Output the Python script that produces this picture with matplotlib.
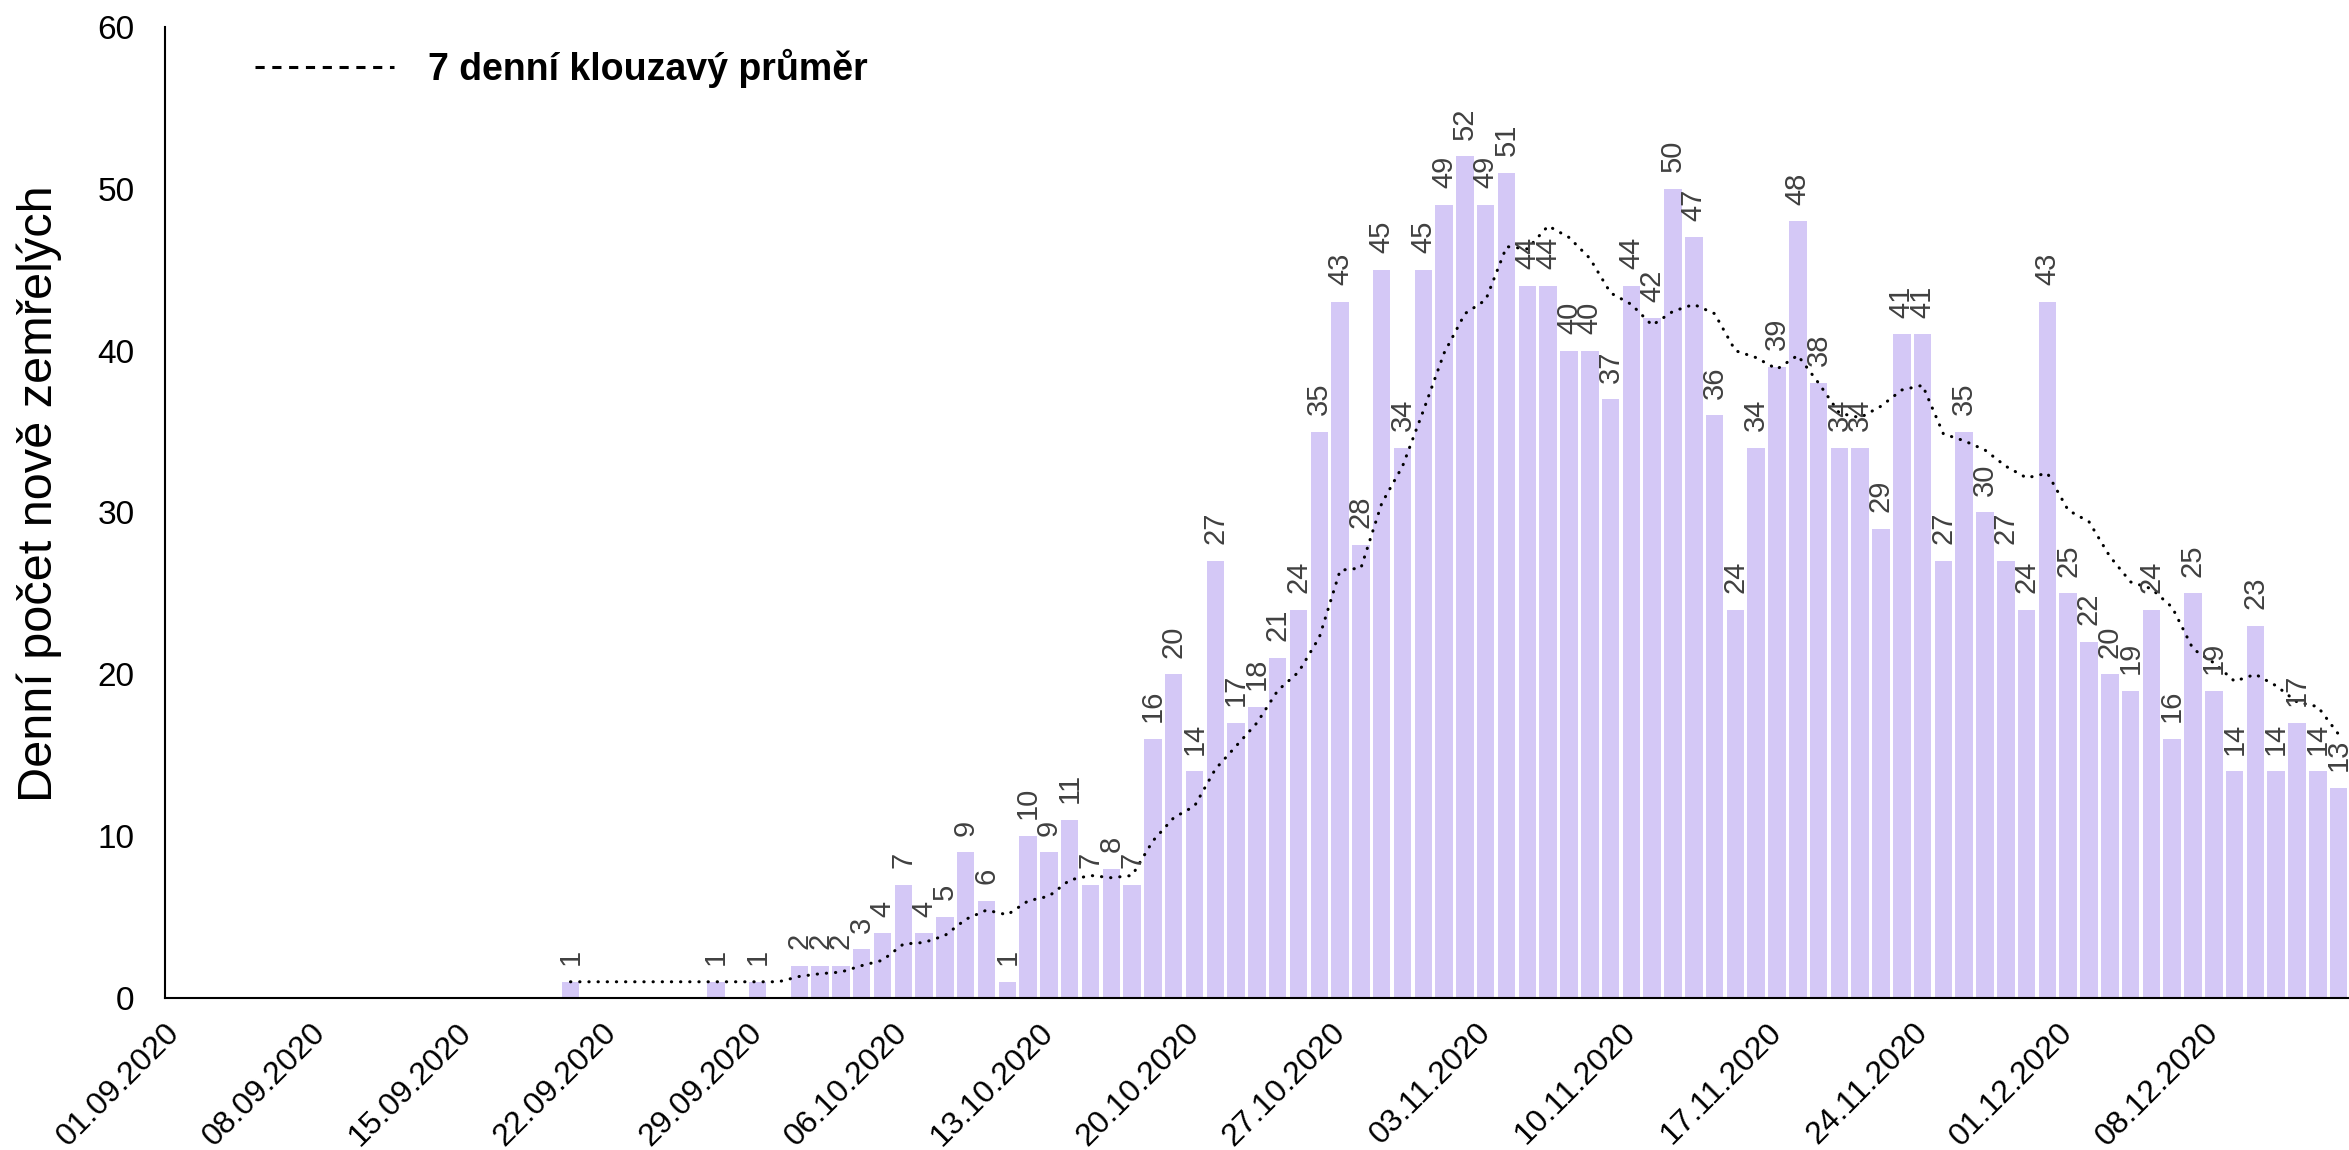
import numpy as np
import pandas as pd
import matplotlib
matplotlib.use("Agg")
import matplotlib.pyplot as plt
import matplotlib.dates as mdates
from matplotlib.lines import Line2D

plt.rcParams['font.family'] = ['Liberation Sans', 'DejaVu Sans']

# data
zacatek_osy = "2020-09-01"
konec_osy = "2020-12-15"
prvni_den = "2020-09-20"

zemreli = [1, 0, 0, 0, 0, 0, 0, 1, 0, 1, 0,
           2, 2, 2, 3, 4, 7, 4, 5, 9, 6,
           1, 10, 9, 11, 7, 8, 7, 16, 20, 14,
           27, 17, 18, 21, 24, 35, 43, 28, 45, 34,
           45, 49, 52, 49, 51, 44, 44, 40, 40, 37,
           44, 42, 50, 47, 36, 24, 34, 39, 48, 38,
           34, 34, 29, 41, 41, 27, 35, 30, 27, 24,
           43, 25, 22, 20, 19, 24, 16, 25, 19, 14,
           23, 14, 17, 14, 13]

prumer_7d = [1, 1, 1, 1, 1, 1, 1, 1, 1, 1, 1,
             1.33, 1.5, 1.6, 2.0, 2.33, 3.33, 3.43, 3.86, 4.86, 5.43,
             5.14, 6.0, 6.29, 7.29, 7.57, 7.43, 7.57, 9.71, 11.14, 11.86,
             14.14, 15.57, 17.0, 19.0, 20.14, 22.29, 26.43, 26.57, 30.57, 32.86,
             36.29, 39.86, 42.29, 43.14, 46.43, 46.29, 47.71, 47.0, 45.71, 43.57,
             42.86, 41.57, 42.43, 42.86, 42.29, 40.0, 39.57, 38.86, 39.71, 38.0,
             36.14, 35.86, 36.57, 37.57, 37.86, 34.86, 34.43, 33.86, 32.86, 32.14,
             32.43, 30.14, 29.43, 27.29, 25.71, 25.29, 24.14, 21.57, 20.71, 19.57,
             20.0, 19.29, 18.29, 18.0, 16.29]

dny = pd.date_range(prvni_den, periods=len(zemreli), freq="D")
x = mdates.date2num(dny.to_pydatetime()) + 0.5

fig = plt.figure(figsize=(23.49, 11.5), dpi=100)
ax = fig.add_axes([0.0702, 0.1322, 0.9298, 0.8443])

ax.bar(x, zemreli, width=0.84, color="#D4C8F6", zorder=2)
ax.plot(x, prumer_7d, color="black", lw=2.2, linestyle=(0, (0.1, 2.9)),
        dash_capstyle="round", zorder=3)

for xi, v in zip(x, zemreli):
    if v > 0:
        ax.annotate(str(v), (xi, v), xytext=(0, 12), textcoords="offset points",
                    rotation=90, ha="center", va="bottom", fontsize=21,
                    color="#404040", zorder=4)

ax.set_xlim(mdates.date2num(pd.Timestamp(zacatek_osy)), mdates.date2num(pd.Timestamp(konec_osy)))
ax.set_ylim(0, 60)
ax.set_yticks(range(0, 61, 10))

tyden = pd.date_range(zacatek_osy, "2020-12-08", freq="7D")
ax.set_xticks(mdates.date2num(tyden.to_pydatetime()))
ax.set_xticklabels([d.strftime("%d.%m.%Y") for d in tyden], rotation=45,
                   ha="right", rotation_mode="anchor", fontsize=23)
ax.tick_params(axis="x", length=0, pad=14)
ax.tick_params(axis="y", length=0, pad=22, labelsize=24)

for s in ["top", "right"]:
    ax.spines[s].set_visible(False)
ax.spines["left"].set_linewidth(1.5)
ax.spines["bottom"].set_linewidth(1.5)

ax.set_ylabel("Denní počet nově zemřelých", fontsize=35)
ax.yaxis.set_label_coords(-0.047, 0.519)

proxy = Line2D([0], [0], color="black", lw=2.2, linestyle=(0, (3, 2.5)))
leg = ax.legend([proxy], ["7 denní klouzavý průměr"], loc="center left",
                bbox_to_anchor=(0.026, 0.957), frameon=False, handlelength=3.7,
                handletextpad=0.9, prop={"weight": "bold", "size": 27})

fig.savefig("out.png", dpi=100)
